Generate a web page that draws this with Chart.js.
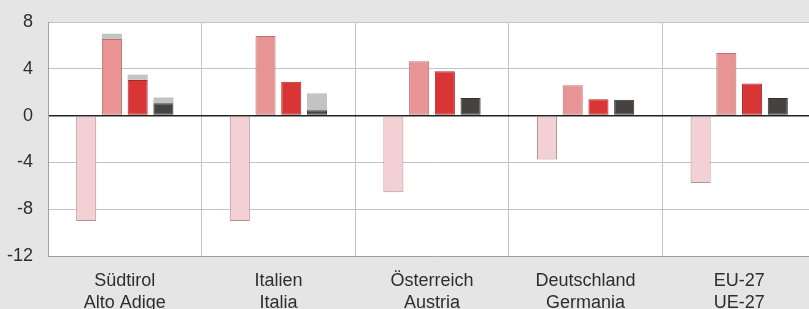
<!DOCTYPE html>
<html>
<head>
<meta charset="utf-8">
<script src="https://cdn.jsdelivr.net/npm/chart.js@4/dist/chart.umd.min.js"></script>
<style>
  html, body { margin: 0; padding: 0; background: #e5e5e5; overflow: hidden; }
  #wrap { width: 816px; height: 309px; }
  canvas { display: block; }
</style>
</head>
<body>
<div id="wrap"><canvas id="chart" width="816" height="309"></canvas></div>
<script>
// Category labels (two lines each)
const regions = [
  ['Südtirol', 'Alto Adige'],
  ['Italien', 'Italia'],
  ['Österreich', 'Austria'],
  ['Deutschland', 'Germania'],
  ['EU-27', 'UE-27']
];

// Series values
const seriesA = [-9.0, -9.0, -6.55, -3.75, -5.75];
const seriesB = [6.55, 6.8, 4.65, 2.6, 5.35];
const seriesBExtra = [0.45, 0, 0, 0, 0];
const seriesC = [3.05, 2.9, 3.8, 1.4, 2.75];
const seriesCExtra = [0.45, 0, 0, 0, 0];
const seriesD = [1.05, 0.45, 1.5, 1.35, 1.5];
const seriesDExtra = [0.5, 1.45, 0, 0, 0];

const yTicks = [8, 4, 0, -4, -8, -12];

// White plot area behind the bars
const plotBackground = {
  id: 'plotBackground',
  beforeDraw(chart) {
    const { ctx, chartArea } = chart;
    ctx.save();
    ctx.fillStyle = '#ffffff';
    ctx.fillRect(chartArea.left, chartArea.top, chartArea.right - chartArea.left, chartArea.bottom - chartArea.top);
    ctx.restore();
  }
};

const bar = (data, stack, bg, border) => ({
  data, stack,
  backgroundColor: bg,
  borderColor: border,
  borderWidth: border ? 1 : 0,
  borderSkipped: false
});

new Chart(document.getElementById('chart'), {
  type: 'bar',
  data: {
    labels: regions,
    datasets: [
      bar(seriesA, 'a', '#f2d0d3', '#b58f95'),
      bar(seriesB, 'b', '#e89394', '#b87373'),
      bar(seriesBExtra, 'b', '#c3c3c3', null),
      bar(seriesC, 'c', '#d93535', '#a82a2a'),
      bar(seriesCExtra, 'c', '#c3c3c3', null),
      bar(seriesD, 'd', '#474242', '#333030'),
      bar(seriesDExtra, 'd', '#c3c3c3', null)
    ]
  },
  options: {
    responsive: false,
    animation: false,
    categoryPercentage: 0.67,
    barPercentage: 0.78,
    layout: { padding: { top: 22, right: 0, left: 0, bottom: 0 } },
    plugins: {
      legend: { display: false },
      tooltip: { enabled: false }
    },
    scales: {
      x: {
        stacked: true,
        grid: { color: '#c4c4c4', lineWidth: 1, drawTicks: false },
        border: { color: '#a0a0a0' },
        ticks: {
          color: '#2e2e2e',
          padding: 14,
          maxRotation: 0,
          font: { family: 'Liberation Sans, Arial, sans-serif', size: 18, lineHeight: 1.22 }
        },
        afterFit(scale) { scale.height = 53; }
      },
      y: {
        stacked: true,
        min: -12,
        max: 8,
        afterBuildTicks(scale) { scale.ticks = yTicks.map(v => ({ value: v })); },
        grid: {
          drawTicks: true,
          tickLength: 15,
          tickColor: 'rgba(0,0,0,0)',
          color: ctx => ctx.tick && ctx.tick.value === 0 ? '#222222' : '#c4c4c4',
          lineWidth: ctx => ctx.tick && ctx.tick.value === 0 ? 1.6 : 1
        },
        border: { color: '#a0a0a0' },
        ticks: {
          color: '#2e2e2e',
          padding: 0,
          font: { family: 'Liberation Sans, Arial, sans-serif', size: 18 }
        },
        afterFit(scale) { scale.width = 48; }
      }
    }
  },
  plugins: [plotBackground]
});
</script>
</body>
</html>
